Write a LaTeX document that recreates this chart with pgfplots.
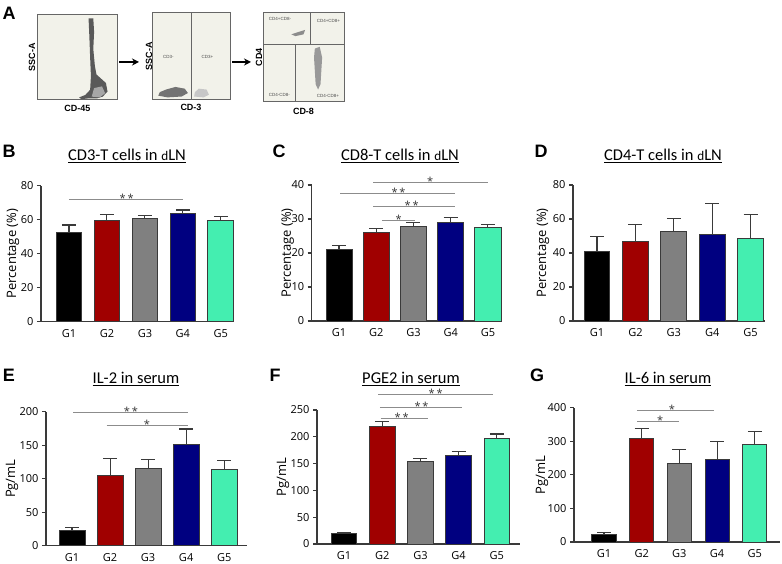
\documentclass[border=0pt]{standalone}
\usepackage{fontspec}
\setmainfont{Open Sans}
\newfontfamily\calfont{Carlito}
\newfontfamily\arialfont{Liberation Sans}
\usepackage{pgfplots}
\pgfplotsset{compat=1.18}
\usetikzlibrary{arrows.meta}
\definecolor{cGa}{HTML}{000000}
\definecolor{cGb}{HTML}{A00000}
\definecolor{cGc}{HTML}{808080}
\definecolor{cGd}{HTML}{000080}
\definecolor{cGe}{HTML}{44EEB0}
\definecolor{edge}{HTML}{3A3A3A}
\definecolor{sig}{HTML}{8C8C8C}
\definecolor{bg}{HTML}{F2F2EA}
\tikzset{
 star/.style={anchor=base, yshift=-3pt, inner sep=0pt, font=\fontsize{11}{13}\selectfont, text=black!80},
 gtext/.style={font=\arialfont\fontsize{4.5}{5}\selectfont, text=black!70},
}
\pgfplotsset{
 barpanel/.style={
  scale only axis, clip=false,
  axis x line*=bottom, axis y line*=left,
  axis line style={line width=1.1pt, color=edge, -},
  ymin=0,
  xtick={0,1,2,3,4}, xticklabels={G1,G2,G3,G4,G5},
  x tick style={draw=none},
  y tick style={line width=1.1pt, color=edge},
  tick align=outside, major tick length=4pt,
  ticklabel style={font=\fontsize{11}{13}\selectfont},
  /pgf/number format/assume math mode=true,
  ylabel style={anchor=center, font=\fontsize{13}{15}\selectfont},
 },
 bp/.style={ybar, bar shift=0pt, fill=#1, draw=edge, line width=0.9pt,
  error bars/y dir=plus, error bars/y explicit,
  error bars/error mark=|,
  error bars/error bar style={line width=1.1pt, color=edge, solid},
  error bars/error mark options={line width=1.1pt, color=edge, mark size=7pt}},
 sigl/.style={sharp plot, no marks, color=sig, line width=0.9pt, forget plot},
 flow/.style={scale only axis, xmin=0, xmax=100, ymin=0, ymax=100,
  xtick=\empty, ytick=\empty, axis line style={line width=1pt, color=black!60},
  axis background/.style={fill=bg},
  label style={font=\arialfont\bfseries\fontsize{9}{11}\selectfont}},
 gate/.style={sharp plot, no marks, color=black!60, line width=0.9pt},
}
\begin{document}
\begin{tikzpicture}
% ---------- Panel A ----------
\node[font=\arialfont\bfseries\fontsize{18}{18}\selectfont] at (9pt,551pt) {A};
\begin{axis}[flow, at={(38pt,464pt)}, anchor=south west, width=79pt, height=85pt,
  xlabel={CD-45}, ylabel={SSC-A},
  xlabel style={at={(axis description cs:0.5,0)}, anchor=center, yshift=-8pt},
  ylabel style={at={(axis description cs:-0.076,0.5)}, anchor=center}]
\addplot[fill=black!65, draw=none] coordinates {(64,96)(70,96)(71,80)(70,60)(72,40)(74,30)(80,25)(86,20)(88,10)(82,4)(75,2)(65,2)(55,1)(52,3)(60,6)(66,12)(67,28)(66,50)(65,75)} -- cycle;
\addplot[fill=black!35, draw=none] coordinates {(68,4)(78,3)(85,8)(81,16)(71,14)} -- cycle;
\end{axis}
\draw[-{Stealth[length=7pt,width=7pt]}, line width=1.6pt] (119pt,502pt) -- (139pt,502pt);
\begin{axis}[flow, at={(152pt,464pt)}, anchor=south west, width=78pt, height=87pt,
  xlabel={CD-3}, ylabel={SSC-A},
  xlabel style={at={(axis description cs:0.5,0)}, anchor=center, yshift=-7pt},
  ylabel style={at={(axis description cs:-0.038,0.5)}, anchor=center}]
\addplot[gate] coordinates {(50,0)(50,100)};
\addplot[fill=black!55, draw=none] coordinates {(8,5)(20,3)(38,4)(46,8)(42,13)(30,15)(18,12)(10,9)} -- cycle;
\addplot[fill=black!22, draw=none] coordinates {(54,4)(66,3)(73,6)(70,12)(60,13)(55,9)} -- cycle;
\node[gtext] at (axis cs:21,50) {CD3-};
\node[gtext] at (axis cs:71,50) {CD3+};
\end{axis}
\draw[-{Stealth[length=7pt,width=7pt]}, line width=1.6pt] (232pt,502pt) -- (251pt,502pt);
\begin{axis}[flow, at={(263pt,462pt)}, anchor=south west, width=81pt, height=89pt,
  xlabel={CD-8}, ylabel={CD4},
  xlabel style={at={(axis description cs:0.5,0)}, anchor=center, yshift=-9pt},
  ylabel style={at={(axis description cs:-0.05,0.5)}, anchor=center}]
\addplot[gate] coordinates {(0,65)(100,65)};
\addplot[gate] coordinates {(58,65)(58,100)};
\addplot[gate] coordinates {(40,0)(40,65)};
\addplot[fill=black!40, draw=none] coordinates {(64,60)(70,62)(73,50)(72,35)(71,20)(68,14)(65,20)(64,35)(63,50)} -- cycle;
\addplot[fill=black!45, draw=none] coordinates {(35,76)(45,79)(52,81)(50,76)(40,74)} -- cycle;
\node[gtext, anchor=west] at (axis cs:3,93) {CD4+CD8-};
\node[gtext, anchor=west] at (axis cs:62,91) {CD4+CD8+};
\node[gtext, anchor=west] at (axis cs:3,8) {CD4-CD8-};
\node[gtext, anchor=west] at (axis cs:62,7) {CD4-CD8+};
\end{axis}
% ---------- Panel letters and titles ----------
\foreach \L/\x/\y in {B/9/413, C/279/413, D/541/413, E/9/189, F/275/189, G/537/189}
  \node[font=\arialfont\bfseries\fontsize{18}{18}\selectfont] at (\x pt,\y pt) {\L};
\node[font=\calfont\fontsize{16.5}{18}\selectfont] at (127pt,408pt) {\underline{CD3-T cells in \scalebox{0.8}{d}LN}};
\node[font=\calfont\fontsize{16.5}{18}\selectfont] at (400pt,408pt) {\underline{CD8-T cells in \scalebox{0.8}{d}LN}};
\node[font=\calfont\fontsize{16.5}{18}\selectfont] at (663pt,408pt) {\underline{CD4-T cells in \scalebox{0.8}{d}LN}};
\node[font=\calfont\fontsize{16.5}{18}\selectfont] at (136pt,185pt) {\underline{IL-2 in serum}};
\node[font=\calfont\fontsize{16.5}{18}\selectfont] at (411pt,185pt) {\underline{PGE2 in serum}};
\node[font=\calfont\fontsize{16.5}{18}\selectfont] at (668pt,185pt) {\underline{IL-6 in serum}};
% ---------- Panel B ----------
\begin{axis}[barpanel, at={(41pt,242.3pt)}, anchor=south west, width=192pt, height=136pt,
  ymax=80, ytick={0,20,40,60,80}, xmin=-0.737, xmax=4.32, bar width=0.68,
  ylabel={Percentage (\%)}, ylabel style={at={(axis description cs:-0.146,0.5)}}]
\addplot[bp=cGa] coordinates {(0,52.4) +- (0,4.5)};
\addplot[bp=cGb] coordinates {(1,59.8) +- (0,3.5)};
\addplot[bp=cGc] coordinates {(2,60.6) +- (0,1.8)};
\addplot[bp=cGd] coordinates {(3,63.7) +- (0,2.0)};
\addplot[bp=cGe] coordinates {(4,59.8) +- (0,2.0)};
\addplot[sigl] coordinates {(0,72) (3,72)};
\node[star] at (axis cs:1.52,72) {*\,*};
\end{axis}
% ---------- Panel C ----------
\begin{axis}[barpanel, at={(311.7pt,243pt)}, anchor=south west, width=190pt, height=136pt,
  ymax=40, ytick={0,10,20,30,40}, xmin=-0.734, xmax=4.37, bar width=0.70,
  ylabel={Percentage (\%)}, ylabel style={at={(axis description cs:-0.126,0.5)}}]
\addplot[bp=cGa] coordinates {(0,21.1) +- (0,1.1)};
\addplot[bp=cGb] coordinates {(1,26.0) +- (0,1.1)};
\addplot[bp=cGc] coordinates {(2,27.7) +- (0,1.2)};
\addplot[bp=cGd] coordinates {(3,29.1) +- (0,1.3)};
\addplot[bp=cGe] coordinates {(4,27.5) +- (0,1.0)};
\addplot[sigl] coordinates {(0.92,40.7) (4.01,40.7)};
\node[star] at (axis cs:2.45,40.7) {*};
\addplot[sigl] coordinates {(0.03,37.5) (3.12,37.5)};
\node[star] at (axis cs:1.6,37.5) {*\,*};
\addplot[sigl] coordinates {(0.92,33.6) (3.12,33.6)};
\node[star] at (axis cs:1.95,33.6) {*\,*};
\addplot[sigl] coordinates {(1.15,29.7) (2.05,29.7)};
\node[star] at (axis cs:1.6,29.7) {*};
\end{axis}
% ---------- Panel D ----------
\begin{axis}[barpanel, at={(573pt,243pt)}, anchor=south west, width=192pt, height=136pt,
  ymax=80, ytick={0,20,40,60,80}, xmin=-0.625, xmax=4.375, bar width=0.67,
  ylabel={Percentage (\%)}, ylabel style={at={(axis description cs:-0.156,0.5)}}]
\addplot[bp=cGa] coordinates {(0,41.2) +- (0,8.4)};
\addplot[bp=cGb] coordinates {(1,46.7) +- (0,9.8)};
\addplot[bp=cGc] coordinates {(2,52.5) +- (0,7.9)};
\addplot[bp=cGd] coordinates {(3,51.2) +- (0,18.0)};
\addplot[bp=cGe] coordinates {(4,48.6) +- (0,13.8)};
\end{axis}
% ---------- Panel E ----------
\begin{axis}[barpanel, at={(46pt,18.3pt)}, anchor=south west, width=201pt, height=134pt,
  ymax=200, ytick={0,50,100,150,200}, xmin=-0.684, xmax=4.6, bar width=0.68,
  ylabel={Pg/mL}, ylabel style={at={(axis description cs:-0.169,0.5)}}]
\addplot[bp=cGa] coordinates {(0,23.4) +- (0,3.5)};
\addplot[bp=cGb] coordinates {(1,104.5) +- (0,25.4)};
\addplot[bp=cGc] coordinates {(2,115.4) +- (0,13.5)};
\addplot[bp=cGd] coordinates {(3,151.7) +- (0,22.4)};
\addplot[bp=cGe] coordinates {(4,113.4) +- (0,13.5)};
\addplot[sigl] coordinates {(0.03,198.5) (3.05,198.5)};
\node[star] at (axis cs:1.55,198.5) {*\,*};
\addplot[sigl] coordinates {(0.91,180) (3.05,180)};
\node[star] at (axis cs:1.97,180) {*};
\end{axis}
% ---------- Panel F ----------
\begin{axis}[barpanel, at={(317pt,20pt)}, anchor=south west, width=203pt, height=134pt,
  ymax=250, ytick={0,50,100,150,200,250}, xmin=-0.707, xmax=4.607, bar width=0.67,
  ylabel={Pg/mL}, ylabel style={at={(axis description cs:-0.167,0.5)}}]
\addplot[bp=cGa] coordinates {(0,19.2) +- (0,2.5)};
\addplot[bp=cGb] coordinates {(1,218.4) +- (0,9.9)};
\addplot[bp=cGc] coordinates {(2,153.8) +- (0,5.0)};
\addplot[bp=cGd] coordinates {(3,165.0) +- (0,7.5)};
\addplot[bp=cGe] coordinates {(4,196.0) +- (0,9.3)};
\addplot[sigl] coordinates {(0.9,279) (3.9,279)};
\node[star] at (axis cs:2.4,279) {*\,*};
\addplot[sigl] coordinates {(0.94,255) (3.08,255)};
\node[star] at (axis cs:2.03,255) {*\,*};
\addplot[sigl] coordinates {(0.96,234.5) (2.2,234.5)};
\node[star] at (axis cs:1.51,234.5) {*\,*};
\end{axis}
% ---------- Panel G ----------
\begin{axis}[barpanel, at={(574pt,22pt)}, anchor=south west, width=206pt, height=134.3pt,
  ymax=400, ytick={0,100,200,300,400}, xmin=-0.796, xmax=4.67, bar width=0.64,
  ylabel={Pg/mL}, ylabel style={at={(axis description cs:-0.155,0.5)}}]
\addplot[bp=cGa] coordinates {(0,23.8) +- (0,3.9)};
\addplot[bp=cGb] coordinates {(1,308.9) +- (0,29.7)};
\addplot[bp=cGc] coordinates {(2,234.7) +- (0,41.5)};
\addplot[bp=cGd] coordinates {(3,246.5) +- (0,52.5)};
\addplot[bp=cGe] coordinates {(4,291.1) +- (0,37.6)};
\addplot[sigl] coordinates {(0.87,393) (2.93,393)};
\node[star] at (axis cs:1.8,393) {*};
\addplot[sigl] coordinates {(0.88,360) (2.0,360)};
\node[star] at (axis cs:1.49,360) {*};
\end{axis}
\pgfresetboundingbox
\path (0pt,0pt) rectangle (782pt,564pt);
\end{tikzpicture}
\end{document}
